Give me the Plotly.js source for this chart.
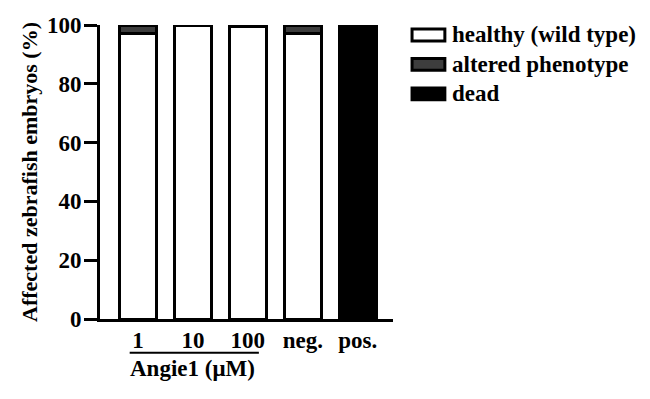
<!DOCTYPE html>
<html>
<head>
<meta charset="utf-8">
<script src="https://cdn.plot.ly/plotly-3.0.1.min.js"></script>
<style>html,body{margin:0;padding:0;background:#fff;}#chart{width:650px;height:399px;}</style>
</head>
<body>
<div id="chart"></div>
<script>
var categories = ["1", "10", "100", "neg.", "pos."];
var healthy = [97, 100, 99.5, 97, null];
var altered = [3, null, null, 3, null];
var dead = [null, null, null, null, 100];
var seriesNames = ["healthy (wild type)", "altered phenotype", "dead"];
var seriesColors = ["#ffffff", "#3d3d3d", "#000000"];
var yTicks = [0, 20, 40, 60, 80, 100];
var groupLabel = "Angie1 (μM)";
var yTitle = "Affected zebrafish embryos (%)";

var FONT = "Liberation Serif";
var FS = 23;
var xIdx = categories.map(function (c, i) { return i; });
var seriesVals = [healthy, altered, dead];

var traces = seriesVals.map(function (vals, k) {
  return {
    type: "bar",
    x: xIdx,
    y: vals,
    name: seriesNames[k],
    width: 0.68,
    marker: { color: seriesColors[k], line: { color: "#000", width: 3 } },
    showlegend: false,
    hoverinfo: "skip"
  };
});

var shapes = [];
var annotations = [];
// manual legend
seriesNames.forEach(function (name, k) {
  var yc = 0.966 - k * 0.1;
  shapes.push({
    type: "rect", xref: "paper", yref: "paper",
    x0: 1.065, x1: 1.177, y0: yc - 0.02, y1: yc + 0.02,
    fillcolor: seriesColors[k], line: { color: "#000", width: 3 }
  });
  annotations.push({
    xref: "paper", yref: "paper", x: 1.195, y: yc,
    xanchor: "left", yanchor: "middle", showarrow: false,
    text: name, font: { family: FONT, size: FS, color: "#000", weight: "bold" }
  });
});
// group underline + label
shapes.push({
  type: "line", xref: "x", yref: "paper",
  x0: -0.15, x1: 2.2, y0: -0.115, y1: -0.115,
  line: { color: "#000", width: 2 }
});
annotations.push({
  xref: "x", yref: "paper", x: 1, y: -0.168,
  xanchor: "center", yanchor: "middle", showarrow: false,
  text: groupLabel, font: { family: FONT, size: FS, color: "#000", weight: "bold" }
});

var layout = {
  width: 650, height: 399,
  margin: { l: 100, r: 257, t: 25, b: 80 },
  paper_bgcolor: "#fff", plot_bgcolor: "#fff",
  barmode: "stack",
  font: { family: FONT, size: FS, color: "#000", weight: "bold" },
  xaxis: {
    range: [-0.69, 4.64],
    tickvals: xIdx, ticktext: categories,
    ticks: "", showgrid: false, zeroline: false,
    showline: true, linecolor: "#000", linewidth: 3,
    tickfont: { family: FONT, size: FS, color: "#000", weight: "bold" },
    ticklabelstandoff: -2,
    fixedrange: true
  },
  yaxis: {
    range: [0, 100],
    tickvals: yTicks,
    ticks: "outside", ticklen: 13, tickwidth: 3, tickcolor: "#000",
    showgrid: false, zeroline: false,
    showline: true, linecolor: "#000", linewidth: 3,
    tickfont: { family: FONT, size: FS, color: "#000", weight: "bold" },
    ticklabelstandoff: -2,
    title: { text: yTitle, standoff: 4, font: { family: FONT, size: 22, color: "#000", weight: "bold" } },
    fixedrange: true
  },
  shapes: shapes,
  annotations: annotations,
  showlegend: false
};

Plotly.newPlot("chart", traces, layout, { staticPlot: true, displayModeBar: false });
</script>
</body>
</html>
